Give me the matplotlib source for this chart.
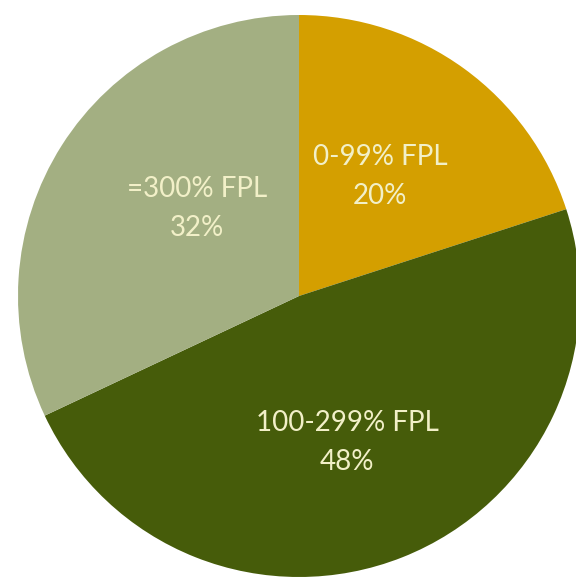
import matplotlib.pyplot as plt

labels = ['0-99% FPL', '100-299% FPL', '=300% FPL']
shares = [20, 48, 32]
colors = ['#D49F00', '#465C0A', '#A3AF82']

fig = plt.figure(figsize=(5.76, 5.77), dpi=100)
ax = fig.add_axes([18 / 576, 0, 562 / 576, 562 / 577])

wedges, texts = ax.pie(shares, colors=colors, startangle=90, counterclock=False,
                       labels=[f'{l}\n{s}%' for l, s in zip(labels, shares)],
                       labeldistance=0.52, radius=1,
                       wedgeprops=dict(linewidth=0))

# label anchors nudged to where the original chart put them
anchors = [(0.288, 0.425), (0.171, -0.521), (-0.363, 0.311)]
for t, xy in zip(texts, anchors):
    t.set_position(xy)
    t.set_ha('center')
    t.set_va('center')
    t.set_color('#F2F0C8')
    t.set_fontsize(20)
    t.set_family(['Lato', 'DejaVu Sans'])
    t.set_linespacing(1.6)

ax.set_xlim(-1, 1)
ax.set_ylim(-1, 1)
ax.set_aspect('equal')
ax.axis('off')
for w in wedges:
    w.set_clip_on(False)

fig.savefig('out.png', dpi=100)
